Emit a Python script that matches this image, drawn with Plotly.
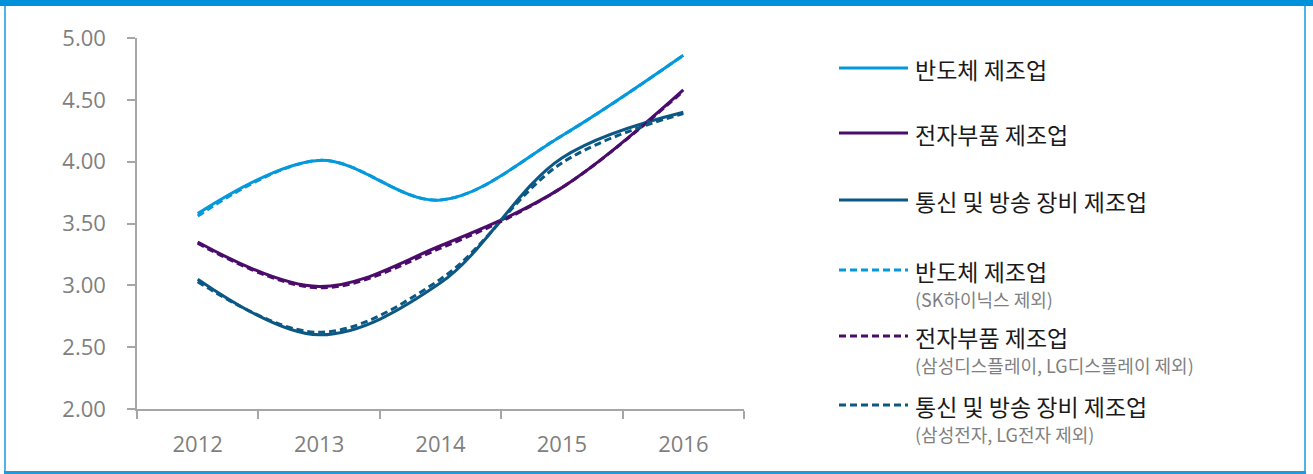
import plotly.graph_objects as go

years = ["2012", "2013", "2014", "2015", "2016"]

semi = [3.58, 4.01, 3.69, 4.21, 4.86]
parts = [3.35, 2.99, 3.32, 3.79, 4.58]
telecom = [3.05, 2.60, 3.02, 4.03, 4.40]

semi_ex = [3.56, 4.01, 3.69, 4.21, 4.86]
parts_ex = [3.34, 2.98, 3.30, 3.79, 4.57]
telecom_ex = [3.03, 2.62, 3.05, 3.99, 4.39]

names = ["반도체 제조업", "전자부품 제조업", "통신 및 방송 장비 제조업"]
subnames = ["(SK하이닉스 제외)", "(삼성디스플레이, LG디스플레이 제외)", "(삼성전자, LG전자 제외)"]
colors = ["#0498DC", "#4B0C6B", "#0B5884"]

W, H = 1313, 474
L, R, T, B = 137, 744, 38, 409   # plot area in pixels


def px(x):
    return (x - L) / (R - L)


def py(y):
    return (B - y) / (B - T)


fig = go.Figure()

for vals, c, n in zip([semi, parts, telecom], colors, names):
    fig.add_trace(go.Scatter(x=years, y=vals, name=n, mode="lines",
                             line=dict(color=c, width=3, shape="spline", smoothing=1.0)))
for vals, c, n in zip([semi_ex, parts_ex, telecom_ex], colors, subnames):
    fig.add_trace(go.Scatter(x=years, y=vals, name=n, mode="lines",
                             line=dict(color=c, width=3, dash="7px,4px", shape="spline", smoothing=1.0)))

shapes = []
annotations = []

# frame
shapes.append(dict(type="rect", xref="paper", yref="paper", x0=px(0), x1=px(W), y0=py(0), y1=py(6),
                   fillcolor="#0091DA", line_width=0, layer="below"))
for x0, x1 in [(4, 6), (1304, 1306)]:
    shapes.append(dict(type="rect", xref="paper", yref="paper", x0=px(x0), x1=px(x1), y0=py(474), y1=py(6),
                       fillcolor="#4FB3E8", line_width=0, layer="below"))
shapes.append(dict(type="rect", xref="paper", yref="paper", x0=px(4), x1=px(1306), y0=py(474), y1=py(471),
                   fillcolor="#1C9BDF", line_width=0, layer="below"))

# legend
main_font = dict(family="Noto Sans CJK KR", size=23, color="#1a1a1a")
sub_font = dict(family="Noto Sans CJK KR", size=18, color="#7f7f7f")
solid_y = [68, 133, 200]
dash_y = [270, 336, 405]
for i, (c, n, s) in enumerate(zip(colors, names, subnames)):
    shapes.append(dict(type="line", xref="paper", yref="paper", x0=px(839), x1=px(908),
                       y0=py(solid_y[i]), y1=py(solid_y[i]), line=dict(color=c, width=3)))
    annotations.append(dict(xref="paper", yref="paper", x=px(913), y=py(solid_y[i] + 1), text=n,
                            showarrow=False, xanchor="left", yanchor="middle", font=main_font))
    shapes.append(dict(type="line", xref="paper", yref="paper", x0=px(839), x1=px(908),
                       y0=py(dash_y[i]), y1=py(dash_y[i]), line=dict(color=c, width=3, dash="7px,4px")))
    annotations.append(dict(xref="paper", yref="paper", x=px(913), y=py(dash_y[i] + 1), text=n,
                            showarrow=False, xanchor="left", yanchor="middle", font=main_font))
    annotations.append(dict(xref="paper", yref="paper", x=px(913), y=py(dash_y[i] + 29), text=s,
                            showarrow=False, xanchor="left", yanchor="middle", font=sub_font))

fig.update_layout(
    width=W, height=H,
    margin=dict(l=L, r=W - R, t=T, b=H - B),
    plot_bgcolor="white", paper_bgcolor="white",
    showlegend=False,
    shapes=shapes, annotations=annotations,
    font=dict(family="Open Sans", color="#7f7f7f"),
)
fig.update_xaxes(type="category", range=[-0.5, 4.5], tickson="boundaries",
                 showline=True, linecolor="#a6a6a6", linewidth=1.5,
                 ticks="outside", ticklen=8, tickcolor="#a6a6a6", tickwidth=1.5,
                 showgrid=False, zeroline=False, tickfont=dict(size=22, color="#7f7f7f"),
                 ticklabelstandoff=15)
fig.update_yaxes(range=[2, 5], dtick=0.5, tickformat=".2f",
                 showline=True, linecolor="#a6a6a6", linewidth=1.5,
                 ticks="outside", ticklen=8, tickcolor="#a6a6a6", tickwidth=1.5,
                 showgrid=False, zeroline=False, tickfont=dict(size=22, color="#7f7f7f"),
                 ticklabelstandoff=17)

fig.write_html("out.html", config={"displayModeBar": False},
               post_script="document.body.style.margin='0';")
